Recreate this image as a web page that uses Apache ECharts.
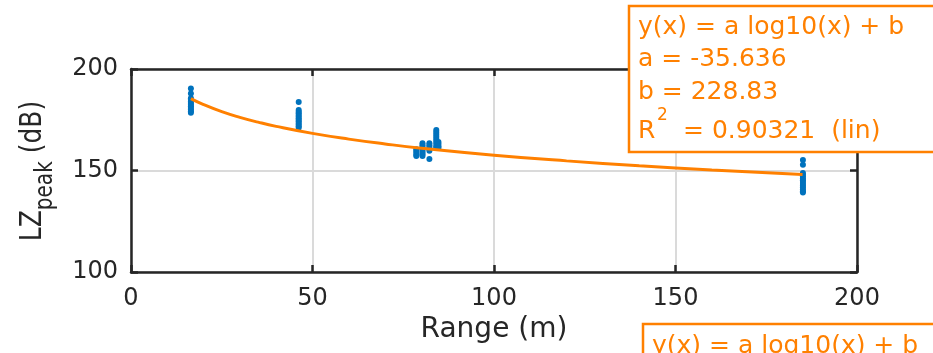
<!DOCTYPE html>
<html><head><meta charset="utf-8">
<script src="https://cdn.jsdelivr.net/npm/echarts@6/dist/echarts.min.js"></script>
<style>html,body{margin:0;padding:0;background:#fff}#c{width:933px;height:353px}</style>
</head><body><div id="c"></div>
<script>
// ---- data ----
const xTickValues = [0, 50, 100, 150, 200];
const yTickValues = [100, 150, 200];

// measured points: range (m) and LZpeak (dB), parallel arrays
const rangeM = [
  16.5,16.5,16.5,16.5,16.5,16.5,16.5,16.5,16.5,16.5,16.5,16.5,
  46.2,46.2,46.2,46.2,46.2,46.2,46.2,46.2,46.2,46.2,46.2,46.2,46.2,
  78.6,78.6,78.6,78.6,78.6,
  80.3,80.3,80.3,80.3,80.3,80.3,80.3,80.3,
  82.2,82.2,82.2,82.2,82.2,82.2,
  84.1,84.1,84.1,84.1,84.1,84.1,84.1,84.1,84.1,84.1,
  84.7,84.7,84.7,84.7,
  185.1,185.1,185.1,185.1,185.1,185.1,185.1,185.1,185.1,185.1,185.1,185.1,185.1,185.1
];
const lzPeak = [
  190.4,187.9,185.6,184.8,184.0,183.2,182.4,181.6,180.8,180.0,179.2,178.4,
  183.7,179.8,179.0,178.2,177.4,176.6,175.8,175.0,174.2,173.4,172.6,171.8,171.0,
  160.5,159.6,158.7,157.8,157.1,
  163.4,162.5,161.6,160.7,159.8,158.9,158.0,157.2,
  163.4,162.5,161.6,160.6,159.7,155.7,
  170.0,169.0,168.0,167.0,166.0,165.0,164.0,163.0,162.0,161.2,
  164.0,163.0,162.0,161.1,
  155.2,152.8,148.8,147.9,147.0,146.1,145.2,144.3,143.4,142.5,141.6,140.7,139.8,139.2
];

// fitted curve
const fitX = [16.5, 20, 25, 30, 35, 40, 50, 60, 70, 80, 100, 120, 140, 160, 185];
const fitY = [185.44, 182.47, 179.01, 176.19, 173.81, 171.74, 168.28, 165.46, 163.08, 161.01, 157.56, 154.74, 152.35, 150.28, 148.04];

const fitLines = ['y(x) = a log10(x) + b', 'a = -35.636', 'b = 228.83'];
const r2Text = '= 0.90321  (lin)';

// ---- chart ----
const FONT = 'DejaVu Sans';
const DARK = '#262626';
const ORANGE = '#ff8000';
const BLUE = '#0072bd';

const chart = echarts.init(document.getElementById('c'), null, {renderer: 'canvas'});

const axisLineStyle = {color: DARK, width: 2.5};
function xAxisCfg(pos, main) {
  return {
    type: 'value', min: 0, max: 200, interval: 50, position: pos,
    axisLine: {show: true, onZero: false, lineStyle: axisLineStyle},
    axisTick: {show: true, inside: true, length: 7, lineStyle: axisLineStyle},
    axisLabel: {show: main, fontSize: 24, color: DARK, fontFamily: FONT, margin: 15,
      formatter: v => xTickValues.includes(v) ? String(v) : ''},
    splitLine: {show: main, lineStyle: {color: '#dadada', width: 2}},
    name: main ? 'Range (m)' : '', nameLocation: 'middle', nameGap: 43,
    nameTextStyle: {fontSize: 28, color: DARK, fontFamily: FONT}
  };
}
function yAxisCfg(pos, main) {
  return {
    type: 'value', min: 100, max: 200, interval: 50, position: pos,
    axisLine: {show: true, onZero: false, lineStyle: axisLineStyle},
    axisTick: {show: true, inside: true, length: 7, lineStyle: axisLineStyle},
    axisLabel: {show: main, fontSize: 24, color: DARK, fontFamily: FONT, margin: 13,
      formatter: v => yTickValues.includes(v) ? String(v) : ''},
    splitLine: {show: main, lineStyle: {color: '#dadada', width: 2}}
  };
}

const points = rangeM.map((x, i) => [x, lzPeak[i]]);
const fit = fitX.map((x, i) => [x, fitY[i]]);

const graphics = [
  // Y axis title with subscript (thickened to match the reference's wide lettering)
  {type: 'text', x: 33, y: 171, rotation: Math.PI / 2, scaleY: 1.22, z: 10,
   style: {text: '{b|LZ}{s|peak}{b| (dB)}', align: 'center', verticalAlign: 'middle',
     rich: {
       b: {fontSize: 25, lineHeight: 40, fontFamily: FONT, fill: DARK, color: DARK},
       s: {fontSize: 20, lineHeight: 26, verticalAlign: 'bottom', fontFamily: FONT, fill: DARK, color: DARK}
     }}},
  // top-right fit box
  {type: 'rect', z: 20, shape: {x: 629, y: 6, width: 330, height: 146},
   style: {fill: '#fff', stroke: ORANGE, lineWidth: 2.5}},
  // bottom fit box (cut off)
  {type: 'rect', z: 20, shape: {x: 643, y: 324, width: 320, height: 80},
   style: {fill: '#fff', stroke: ORANGE, lineWidth: 2.5}},
  {type: 'text', z: 21, x: 652, y: 346,
   style: {text: fitLines[0], font: '25px "' + FONT + '"', fill: ORANGE, verticalAlign: 'middle'}}
];
const lineCenters = [27.5, 59.5, 92];
fitLines.forEach((t, i) => {
  graphics.push({type: 'text', z: 21, x: 638, y: lineCenters[i],
    style: {text: t, font: '25px "' + FONT + '"', fill: ORANGE, verticalAlign: 'middle'}});
});
graphics.push({type: 'text', z: 21, x: 638, y: 131,
  style: {text: 'R', font: '25px "' + FONT + '"', fill: ORANGE, verticalAlign: 'middle'}});
graphics.push({type: 'text', z: 21, x: 657, y: 116,
  style: {text: '2', font: '17px "' + FONT + '"', fill: ORANGE, verticalAlign: 'middle'}});
graphics.push({type: 'text', z: 21, x: 683, y: 131,
  style: {text: r2Text, font: '25px "' + FONT + '"', fill: ORANGE, verticalAlign: 'middle'}});

chart.setOption({
  animation: false,
  backgroundColor: '#fff',
  grid: {left: 131, right: 76, top: 69, bottom: 81, show: false},
  xAxis: [xAxisCfg('bottom', true), xAxisCfg('top', false)],
  yAxis: [yAxisCfg('left', true), yAxisCfg('right', false)],
  series: [
    {type: 'scatter', data: points, symbol: 'circle', symbolSize: 6,
     itemStyle: {color: BLUE, opacity: 1}, z: 3},
    {type: 'line', data: fit, smooth: true, showSymbol: false, symbol: 'none',
     lineStyle: {color: ORANGE, width: 3}, z: 4}
  ],
  graphic: graphics
});
</script>
</body></html>
